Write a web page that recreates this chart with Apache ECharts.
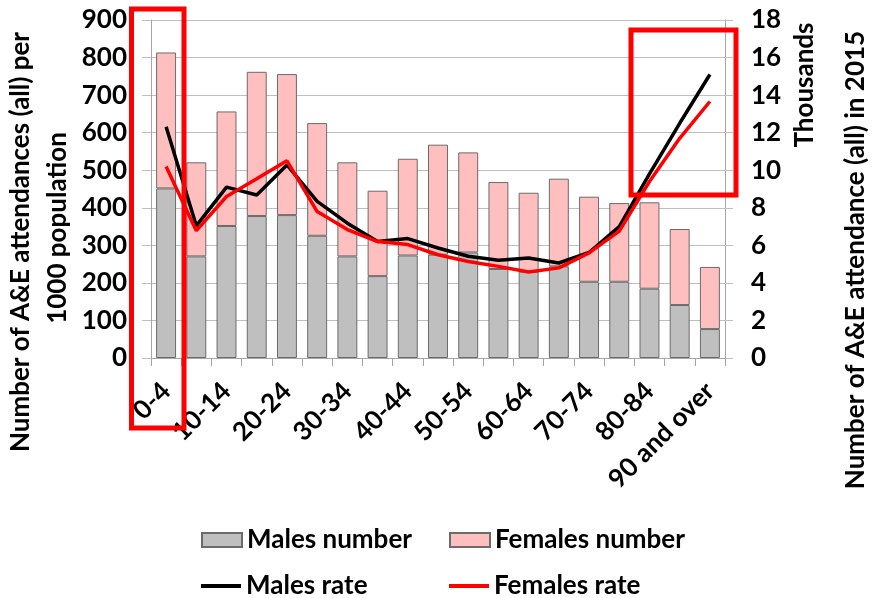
<!DOCTYPE html>
<html><head><meta charset="utf-8">
<script src="https://cdn.jsdelivr.net/npm/echarts@6/dist/echarts.min.js"></script>
<style>html,body{margin:0;padding:0;background:#fff}#c{width:874px;height:598px}</style>
</head><body><div id="c"></div>
<script>
const categories = ['0-4','5-9','10-14','15-19','20-24','25-29','30-34','35-39','40-44','45-49','50-54','55-59','60-64','65-69','70-74','75-79','80-84','85-89','90 and over'];
// numbers in thousands (right axis)
const malesNumber = [9.03,5.41,7.03,7.56,7.61,6.51,5.41,4.36,5.46,5.5,5.62,4.74,4.6,4.88,4.06,4.06,3.69,2.82,1.54];
const femalesNumber = [7.24,5.01,6.10,7.68,7.51,6.00,5.01,4.55,5.15,5.86,5.33,4.63,4.20,4.67,4.53,4.19,4.60,4.05,3.31];
// rates per 1000 population (left axis)
const malesRate = [616,352,455,434,514,417,359,310,318,293,271,260,266,253,281,350,490,625,755];
const femalesRate = [510,339,430,477,525,390,342,310,302,275,257,244,229,240,280,338,470,585,683];
const leftTicks = {min:0, max:900, interval:100};
const rightTicks = {min:0, max:18, interval:2};

const FF = 'Lato';
const FS = 26;
const chart = echarts.init(document.getElementById('c'), null, {renderer:'canvas'});
const gridColor = '#bfbfbf';
function lg(name, left, top, h, icon){
  return {left:left, top:top, orient:'horizontal', itemWidth:40, itemHeight:h, icon:icon,
    textStyle:{fontFamily:FF,fontSize:FS,fontWeight:'bold',color:'#000'}, data:[name]};
}
chart.setOption({
  animation:false,
  textStyle:{fontFamily:FF},
  grid:{left:151,right:149,top:20,bottom:240,containLabel:false},
  legend:[
    lg('Males number',196,522,14,'rect'),
    lg('Females number',444,522,14,'rect'),
    lg('Males rate',196,568,4,'rect'),
    lg('Females rate',444,568,4,'rect')
  ],
  xAxis:{type:'category',data:categories,boundaryGap:true,
    axisLine:{lineStyle:{color:'#a6a6a6',width:1}},
    axisTick:{show:true,interval:0,length:8,lineStyle:{color:'#a6a6a6'}},
    axisLabel:{interval:1,rotate:45,margin:29,fontFamily:FF,fontSize:FS,fontWeight:'bold',color:'#000'}},
  yAxis:[
    {type:'value',position:'left',min:leftTicks.min,max:leftTicks.max,interval:leftTicks.interval,
     axisLine:{show:true,lineStyle:{color:'#a6a6a6'}},
     axisTick:{show:true,length:9,lineStyle:{color:gridColor}},
     splitLine:{show:true,lineStyle:{color:gridColor,width:1}},
     axisLabel:{margin:24,fontFamily:FF,fontSize:FS,fontWeight:'bold',color:'#000'}},
    {type:'value',position:'right',min:rightTicks.min,max:rightTicks.max,interval:rightTicks.interval,
     axisLine:{show:true,lineStyle:{color:'#a6a6a6'}},
     axisTick:{show:true,length:8,lineStyle:{color:gridColor}},
     splitLine:{show:false},
     axisLabel:{margin:26,fontFamily:FF,fontSize:FS,fontWeight:'bold',color:'#000'}}
  ],
  series:[
    {name:'Males number',type:'bar',stack:'n',yAxisIndex:1,data:malesNumber,barCategoryGap:'34%',
     itemStyle:{color:'#bfbfbf',borderColor:'#6b6b6b',borderWidth:1}},
    {name:'Females number',type:'bar',stack:'n',yAxisIndex:1,data:femalesNumber,barCategoryGap:'34%',
     itemStyle:{color:'#ffbfbf',borderColor:'#6b6b6b',borderWidth:1}},
    {name:'Males rate',type:'line',yAxisIndex:0,data:malesRate,symbol:'none',
     lineStyle:{color:'#000',width:3.5},itemStyle:{color:'#000'}},
    {name:'Females rate',type:'line',yAxisIndex:0,data:femalesRate,symbol:'none',
     lineStyle:{color:'#ff0000',width:3.5},itemStyle:{color:'#ff0000'}}
  ],
  graphic:[
    {type:'text',x:21,y:242,rotation:Math.PI/2,style:{text:'Number of A&E attendances (all) per',font:'bold '+FS+'px '+FF,fill:'#000',align:'center',verticalAlign:'middle'}},
    {type:'text',x:58,y:228,rotation:Math.PI/2,style:{text:'1000 population',font:'bold '+FS+'px '+FF,fill:'#000',align:'center',verticalAlign:'middle'}},
    {type:'text',x:805,y:85,rotation:Math.PI/2,style:{text:'Thousands',font:'bold '+FS+'px '+FF,fill:'#000',align:'center',verticalAlign:'middle'}},
    {type:'text',x:856,y:260,rotation:Math.PI/2,style:{text:'Number of A&E attendance (all) in 2015',font:'bold '+FS+'px '+FF,fill:'#000',align:'center',verticalAlign:'middle'}},
    {type:'rect',shape:{x:131.5,y:9,width:52.5,height:419},style:{fill:'none',stroke:'#ff0000',lineWidth:5},z:100},
    {type:'rect',shape:{x:631,y:30,width:105,height:165},style:{fill:'none',stroke:'#ff0000',lineWidth:5},z:100}
  ]
});
</script></body></html>
